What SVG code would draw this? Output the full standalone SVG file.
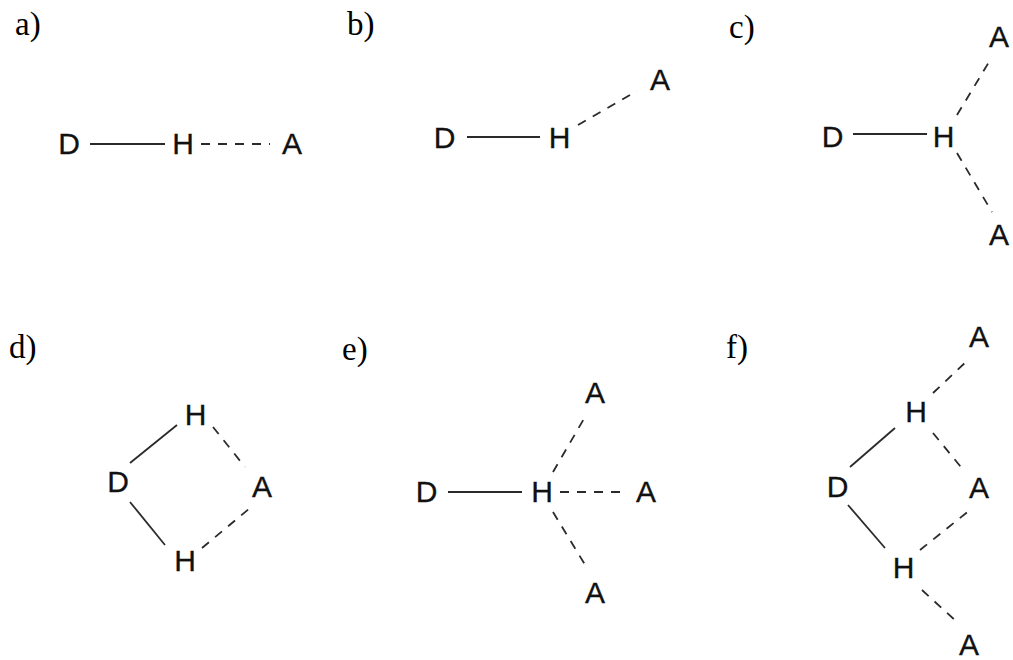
<svg xmlns="http://www.w3.org/2000/svg" width="1013" height="660" viewBox="0 0 1013 660">
<style>
.lbl{font-family:"Liberation Serif","Times New Roman",serif;font-size:33px;fill:#000}
.at{font-family:"Liberation Sans",Arial,sans-serif;font-size:30px;fill:#111;text-anchor:middle;stroke:#111;stroke-width:0.3}
.s{stroke:#2a2a2a;stroke-width:1.8;fill:none}
.d{stroke:#2a2a2a;stroke-width:1.8;fill:none;stroke-dasharray:9 8}
</style>
<rect width="1013" height="660" fill="#fff"/>
<g id="labels">
<text class="lbl" x="15" y="35">a)</text>
<text class="lbl" x="347" y="35">b)</text>
<text class="lbl" x="729" y="38">c)</text>
<text class="lbl" x="9" y="358">d)</text>
<text class="lbl" x="342" y="360">e)</text>
<text class="lbl" x="726" y="358">f)</text>
</g>
<g id="connectors">
<line class="s" x1="90" y1="144" x2="165" y2="144"/>
<line class="d" x1="201" y1="144" x2="270" y2="144"/>
<line class="s" x1="467" y1="137" x2="540" y2="137"/>
<line class="d" x1="578" y1="125" x2="637" y2="91"/>
<line class="s" x1="853" y1="134" x2="927" y2="134"/>
<line class="d" x1="957" y1="115" x2="992" y2="57"/>
<line class="d" x1="957" y1="153" x2="992" y2="212"/>
<line class="s" x1="130" y1="463" x2="177" y2="425"/>
<line class="d" x1="213" y1="427" x2="245" y2="467"/>
<line class="s" x1="130" y1="502" x2="165" y2="545"/>
<line class="d" x1="202" y1="548" x2="250" y2="508"/>
<line class="s" x1="448" y1="492" x2="522" y2="492"/>
<line class="d" x1="560" y1="492" x2="628" y2="492"/>
<line class="d" x1="553" y1="472" x2="585" y2="417"/>
<line class="d" x1="553" y1="512" x2="587" y2="568"/>
<line class="s" x1="850" y1="467" x2="895" y2="428"/>
<line class="d" x1="933" y1="393" x2="968" y2="360"/>
<line class="d" x1="933" y1="433" x2="965" y2="472"/>
<line class="s" x1="848" y1="505" x2="885" y2="548"/>
<line class="d" x1="920" y1="550" x2="970" y2="510"/>
<line class="d" x1="922" y1="590" x2="957" y2="622"/>
</g>
<g id="panel-a">
<text class="at" x="69" y="154">D</text>
<text class="at" x="183" y="154">H</text>
<text class="at" x="292" y="154">A</text>
</g>
<g id="panel-b">
<text class="at" x="444.5" y="148">D</text>
<text class="at" x="559.5" y="148">H</text>
<text class="at" x="660" y="90">A</text>
</g>
<g id="panel-c">
<text class="at" x="832.5" y="147">D</text>
<text class="at" x="943.5" y="147">H</text>
<text class="at" x="999" y="47">A</text>
<text class="at" x="999" y="245">A</text>
</g>
<g id="panel-d">
<text class="at" x="195.5" y="425">H</text>
<text class="at" x="118" y="492">D</text>
<text class="at" x="262" y="497">A</text>
<text class="at" x="185" y="571">H</text>
</g>
<g id="panel-e">
<text class="at" x="595" y="403">A</text>
<text class="at" x="426.5" y="502">D</text>
<text class="at" x="542" y="502">H</text>
<text class="at" x="646" y="502">A</text>
<text class="at" x="595" y="603">A</text>
</g>
<g id="panel-f">
<text class="at" x="979" y="347">A</text>
<text class="at" x="916" y="422">H</text>
<text class="at" x="837.5" y="497">D</text>
<text class="at" x="979" y="498">A</text>
<text class="at" x="903.5" y="578">H</text>
<text class="at" x="969" y="655">A</text>
</g>
</svg>
